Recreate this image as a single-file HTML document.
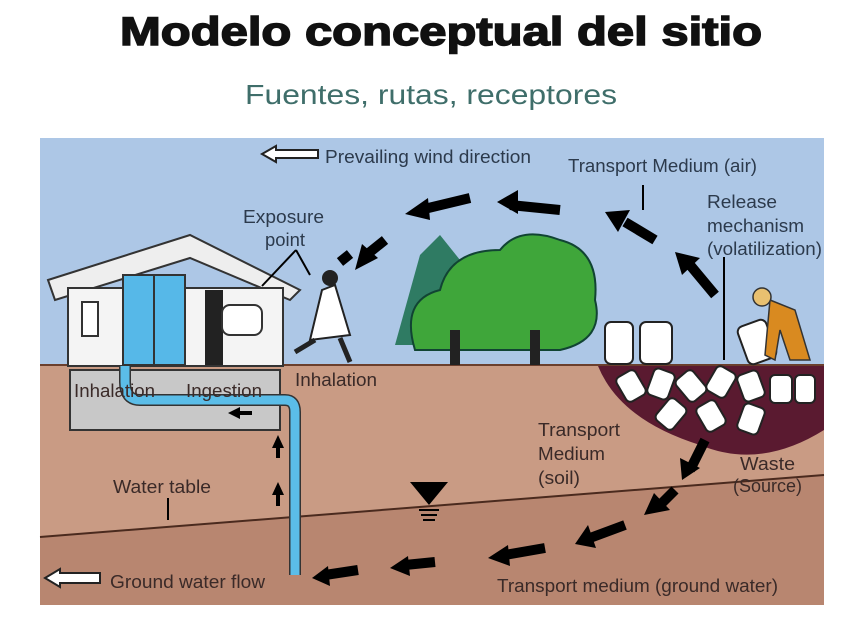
<!DOCTYPE html>
<html><head><meta charset="utf-8"><style>
body{margin:0;background:#fff;width:857px;height:614px;overflow:hidden;font-family:"Liberation Sans",sans-serif}
</style></head><body>
<svg width="857" height="614" viewBox="0 0 857 614" xmlns="http://www.w3.org/2000/svg" font-family="Liberation Sans, sans-serif">
<text x="120" y="45" textLength="642" lengthAdjust="spacingAndGlyphs" font-size="40" font-weight="bold" fill="#111" stroke="#111" stroke-width="1.5">Modelo conceptual del sitio</text>
<text x="245" y="104" textLength="372" lengthAdjust="spacingAndGlyphs" font-size="28" fill="#3f6e6a">Fuentes, rutas, receptores</text>
<!-- sky -->
<rect x="40" y="138" width="784" height="228" fill="#adc7e6"/>
<!-- ground -->
<rect x="40" y="365" width="784" height="240" fill="#c99b84"/>
<polygon points="40,537 824,475 824,605 40,605" fill="#b88670"/>
<line x1="40" y1="537" x2="824" y2="475" stroke="#4a2a1e" stroke-width="2"/>
<line x1="40" y1="365" x2="824" y2="365" stroke="#6b3f2d" stroke-width="2"/>
<!-- waste pit -->
<path d="M598,366 L824,366 L824,430 Q760,470 700,445 Q620,420 598,366Z" fill="#5a1a30"/>
<g fill="#fff" stroke="#222" stroke-width="2">
<rect x="620" y="372" width="22" height="28" rx="5" transform="rotate(-30 631 386)"/>
<rect x="650" y="370" width="22" height="28" rx="5" transform="rotate(20 661 384)"/>
<rect x="680" y="372" width="22" height="28" rx="5" transform="rotate(-40 691 386)"/>
<rect x="710" y="368" width="22" height="28" rx="5" transform="rotate(30 721 382)"/>
<rect x="740" y="372" width="22" height="28" rx="5" transform="rotate(-20 751 386)"/>
<rect x="770" y="375" width="22" height="28" rx="5"/>
<rect x="795" y="375" width="20" height="28" rx="5"/>
<rect x="660" y="400" width="22" height="28" rx="5" transform="rotate(40 671 414)"/>
<rect x="700" y="402" width="22" height="28" rx="5" transform="rotate(-30 711 416)"/>
<rect x="740" y="405" width="22" height="28" rx="5" transform="rotate(20 751 419)"/>
<rect x="605" y="322" width="28" height="42" rx="6"/>
<rect x="640" y="322" width="32" height="42" rx="6"/>
<rect x="742" y="322" width="30" height="40" rx="6" transform="rotate(-20 757 342)"/>
</g>
<!-- trees -->
<path d="M395,345 L420,255 L440,235 L460,260 L490,345Z" fill="#2f7b63"/>
<path d="M415,350 Q400,300 440,290 Q450,250 500,250 Q520,225 560,240 Q600,250 595,300 Q605,340 560,350Z" fill="#3fa63a" stroke="#143" stroke-width="2"/>
<rect x="450" y="330" width="10" height="35" fill="#222"/><rect x="530" y="330" width="10" height="35" fill="#222"/>
<!-- worker -->
<path d="M770,300 L795,310 L810,360 L790,360 L780,330 L775,360 L765,355Z" fill="#d98a20" stroke="#333" stroke-width="1.5"/>
<circle cx="762" cy="297" r="9" fill="#e8c070" stroke="#333" stroke-width="1.5"/>
<!-- house -->
<rect x="70" y="370" width="210" height="60" fill="#c8c8c8" stroke="#333" stroke-width="2"/>
<polygon points="48,280 190,235 300,290 290,300 190,258 55,300" fill="#eee" stroke="#333" stroke-width="2"/>
<rect x="68" y="288" width="215" height="78" fill="#f4f4f4" stroke="#333" stroke-width="2"/>
<rect x="123" y="275" width="62" height="90" fill="#56b8e8" stroke="#333" stroke-width="2"/>
<line x1="154" y1="275" x2="154" y2="365" stroke="#333" stroke-width="2"/>
<rect x="82" y="302" width="16" height="34" fill="#fff" stroke="#333" stroke-width="2"/>
<rect x="205" y="290" width="18" height="75" fill="#222"/>
<rect x="222" y="305" width="40" height="30" rx="8" fill="#fff" stroke="#333" stroke-width="2"/>
<!-- girl -->
<path d="M322,290 L335,285 L350,335 L310,340Z" fill="#fff" stroke="#222" stroke-width="2"/>
<circle cx="330" cy="278" r="8" fill="#222"/>
<path d="M315,340 L295,352 M340,338 L350,362" stroke="#222" stroke-width="5"/>
<!-- pipe -->
<path d="M125,366 L125,382 Q125,400 140,400 L285,400 Q295,400 295,412 L295,575" fill="none" stroke="#333" stroke-width="12"/>
<path d="M125,366 L125,382 Q125,400 140,400 L285,400 Q295,400 295,412 L295,575" fill="none" stroke="#5bbde8" stroke-width="9"/>
<!-- black arrows -->
<g fill="#000">
<polygon points="228,413 240,407 240,411 252,411 252,415 240,415 240,419"/>
<polygon points="278,435 272,448 276,448 276,458 280,458 280,448 284,448"/>
<polygon points="278,482 272,495 276,495 276,506 280,506 280,495 284,495"/>
</g>
<g stroke="#000" stroke-width="10" fill="none">
<line x1="510" y1="205" x2="560" y2="210"/><line x1="420" y1="210" x2="470" y2="198"/>
<line x1="655" y1="240" x2="625" y2="222"/><line x1="715" y1="295" x2="690" y2="265"/>
<line x1="385" y1="240" x2="365" y2="256"/><line x1="340" y1="262" x2="350" y2="254"/>
<line x1="705" y1="440" x2="690" y2="470"/><line x1="675" y1="490" x2="660" y2="505"/>
<line x1="625" y1="525" x2="590" y2="538"/><line x1="545" y1="548" x2="505" y2="555"/>
<line x1="435" y1="562" x2="405" y2="565"/><line x1="358" y1="570" x2="325" y2="575"/>
</g>
<g fill="#000">
<polygon points="405,214 428,198 430,220"/><polygon points="497,202 518,190 518,214"/>
<polygon points="605,212 630,210 618,232"/><polygon points="675,252 700,258 682,275"/>
<polygon points="355,270 362,244 378,258"/><polygon points="682,480 680,458 700,468"/>
<polygon points="644,515 654,493 670,510"/><polygon points="575,544 588,525 596,548"/>
<polygon points="488,558 508,545 510,566"/><polygon points="390,568 408,556 410,576"/>
<polygon points="312,578 328,566 330,586"/>
</g>
<g stroke="#000" stroke-width="2"><line x1="724" y1="257" x2="724" y2="360"/><line x1="643" y1="185" x2="643" y2="210"/>
<line x1="168" y1="498" x2="168" y2="520"/><line x1="296" y1="250" x2="262" y2="286"/><line x1="296" y1="250" x2="310" y2="275"/></g>
<!-- triangle symbol -->
<polygon points="410,482 448,482 429,505" fill="#000"/>
<g stroke="#000" stroke-width="2"><line x1="419" y1="510" x2="439" y2="510"/><line x1="421" y1="515" x2="437" y2="515"/><line x1="423" y1="520" x2="435" y2="520"/></g>
<!-- hollow arrows -->
<polygon points="262,154 276,146 276,150 318,150 318,158 276,158 276,162" fill="#fff" stroke="#222" stroke-width="2"/>
<polygon points="45,578 60,569 60,573 100,573 100,583 60,583 60,587" fill="#fff" stroke="#222" stroke-width="2"/>
<g font-size="18" fill="#2c3a4c" lengthAdjust="spacingAndGlyphs">
<text x="325" y="163" textLength="206" lengthAdjust="spacingAndGlyphs">Prevailing wind direction</text>
<text x="568" y="172" textLength="189" lengthAdjust="spacingAndGlyphs">Transport Medium (air)</text>
<text x="707" y="208" textLength="70" lengthAdjust="spacingAndGlyphs">Release</text>
<text x="707" y="232" textLength="97" lengthAdjust="spacingAndGlyphs">mechanism</text>
<text x="707" y="255" textLength="115" lengthAdjust="spacingAndGlyphs">(volatilization)</text>
<text x="243" y="223" textLength="81" lengthAdjust="spacingAndGlyphs">Exposure</text>
<text x="265" y="246" textLength="40" lengthAdjust="spacingAndGlyphs">point</text>
</g>
<g font-size="18" fill="#3a2a28">
<text x="295" y="386" textLength="82" lengthAdjust="spacingAndGlyphs">Inhalation</text>
<text x="74" y="397" textLength="81" lengthAdjust="spacingAndGlyphs">Inhalation</text>
<text x="186" y="397" textLength="76" lengthAdjust="spacingAndGlyphs">Ingestion</text>
<text x="538" y="436" textLength="82" lengthAdjust="spacingAndGlyphs">Transport</text>
<text x="538" y="460" textLength="67" lengthAdjust="spacingAndGlyphs">Medium</text>
<text x="538" y="484" textLength="42" lengthAdjust="spacingAndGlyphs">(soil)</text>
<text x="740" y="470" textLength="55" lengthAdjust="spacingAndGlyphs">Waste</text>
<text x="733" y="492" textLength="69" lengthAdjust="spacingAndGlyphs">(Source)</text>
<text x="113" y="493" textLength="98" lengthAdjust="spacingAndGlyphs">Water table</text>
<text x="110" y="588" textLength="155" lengthAdjust="spacingAndGlyphs">Ground water flow</text>
<text x="497" y="592" textLength="281" lengthAdjust="spacingAndGlyphs">Transport medium (ground water)</text>
</g>
</svg>
</body></html>
